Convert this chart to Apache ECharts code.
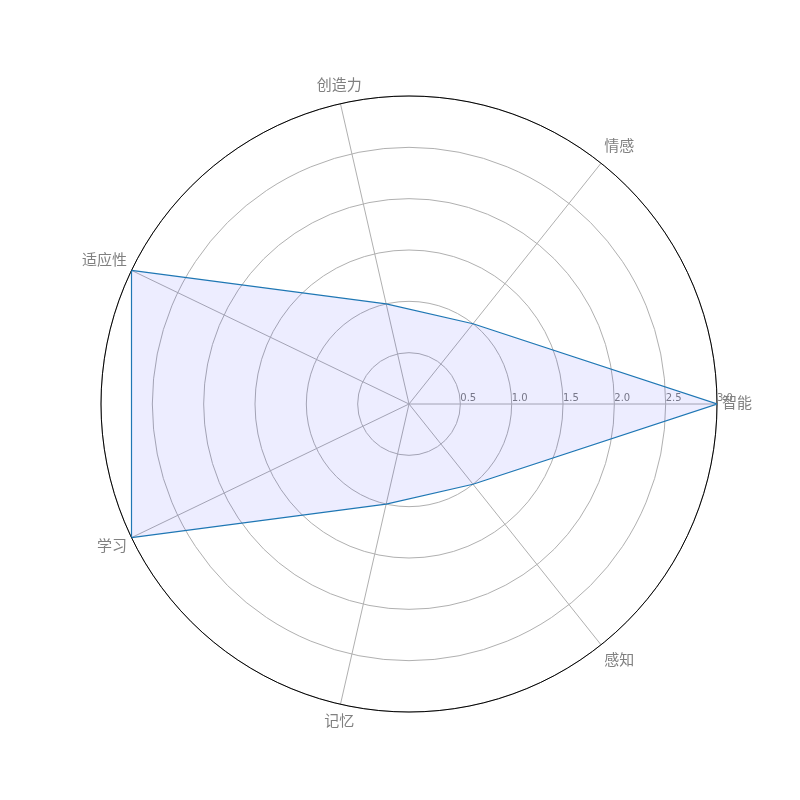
<!DOCTYPE html>
<html><head><meta charset="utf-8">
<script src="https://cdn.jsdelivr.net/npm/echarts@6/dist/echarts.min.js"></script>
<style>html,body{margin:0;padding:0;background:#fff}#c{width:800px;height:800px}</style>
</head><body><div id="c"></div>
<script>
var categories = ['智能', '情感', '创造力', '适应性', '学习', '记忆', '感知'];
var values = [3.0, 1.0, 1.0, 3.0, 3.0, 1.0, 1.0];
var radialTicks = [0.5, 1.0, 1.5, 2.0, 2.5, 3.0];

var step = 360 / categories.length;
var pts = values.map(function (v, i) { return [v, i * step]; });
pts.push(pts[0]);
var FONT = '"DejaVu Sans", "Noto Sans CJK SC", sans-serif';

var chart = echarts.init(document.getElementById('c'), null, {renderer: 'canvas'});
chart.setOption({
  animation: false,
  backgroundColor: '#fff',
  polar: {center: [409, 404], radius: 308},
  angleAxis: {
    type: 'value', min: 0, max: 360, interval: step,
    startAngle: 0, clockwise: false,
    axisLine: {show: true, lineStyle: {color: '#000', width: 1}},
    axisTick: {show: false},
    splitLine: {show: true, lineStyle: {color: '#b0b0b0', width: 1}},
    axisLabel: {
      show: true, margin: 5, fontSize: 15, color: '#808080', fontFamily: FONT,
      formatter: function (v) {
        var i = Math.round(v / step);
        if (i >= categories.length) return '';
        var c = Math.abs(Math.cos(i * step * Math.PI / 180));
        return (c > 0.8 ? '{h|' : '{v|') + categories[i] + '}';
      },
      rich: {
        h: {fontSize: 15, color: '#808080', fontFamily: FONT},
        v: {fontSize: 15, color: '#808080', fontFamily: FONT, padding: [5, 0, 5, 0]}
      }
    }
  },
  radiusAxis: {
    type: 'value', min: 0, max: radialTicks[radialTicks.length - 1], interval: 0.5,
    axisLine: {show: false},
    axisTick: {show: false},
    splitLine: {show: true, lineStyle: {color: '#b0b0b0', width: 1}},
    axisLabel: {
      show: true, showMinLabel: false, fontSize: 10, color: '#808080', fontFamily: FONT,
      align: 'left', verticalAlign: 'bottom', margin: 1,
      formatter: function (v) { return v.toFixed(1); }
    }
  },
  series: [{
    type: 'line', coordinateSystem: 'polar', data: pts,
    symbol: 'none', smooth: false,
    lineStyle: {color: '#1f77b4', width: 1.2},
    areaStyle: {color: 'rgba(0,0,255,0.1)', origin: 'start'}
  }]
});
</script></body></html>
